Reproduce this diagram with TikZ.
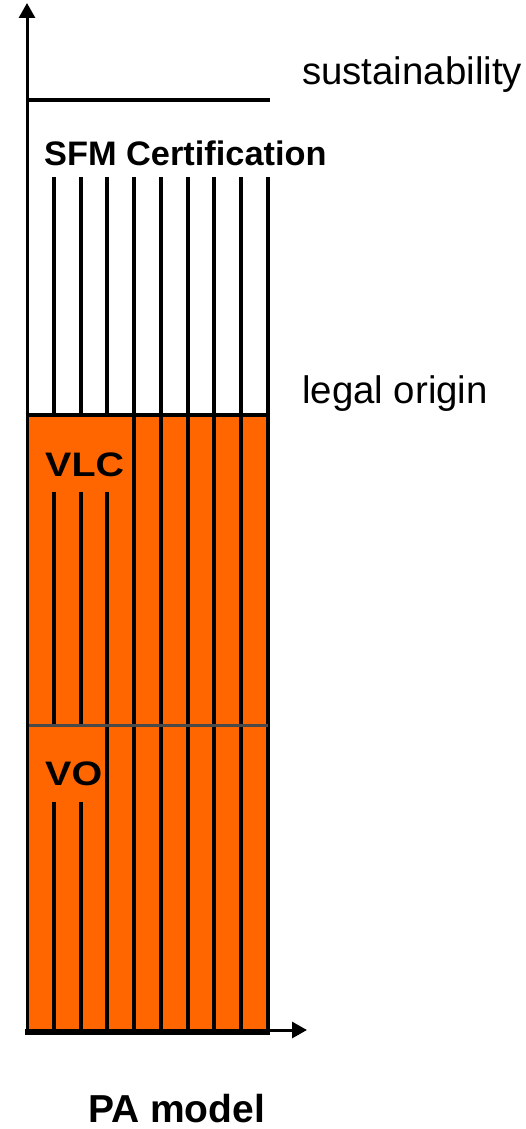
\documentclass[tikz,border=0pt]{standalone}
\usepackage{fontspec}
\setmainfont{Liberation Sans}
\usetikzlibrary{arrows.meta}
\definecolor{wood}{HTML}{FF6600}
\definecolor{seam}{HTML}{4A4A4A}
\newcommand{\widebold}[1]{\scalebox{1.16}[1]{#1}}
\begin{document}
\begin{tikzpicture}[x=1pt,y=-1pt,
  bar/.style={line width=4pt},
  axis/.style={line width=3pt,-{Triangle[width=16pt,length=15pt]}},
  lbl/.style={anchor=base west,inner sep=0pt,font=\fontsize{38.4}{42}\selectfont},
  tag/.style={anchor=base west,inner sep=0pt,font=\fontsize{34}{38}\selectfont\bfseries}]
\useasboundingbox (0,0) rectangle (526,1129);
% orange body of the column
\fill[wood] (27,415) rectangle (268,1032);
% upper (certification) segment: thin vertical strips
\foreach \k in {1,...,9}
  \draw[bar] ({27+26.75*\k},177) -- ({27+26.75*\k},415);
% strips running through the whole orange block
\foreach \k in {4,...,9}
  \draw[bar] ({27+26.75*\k},415) -- ({27+26.75*\k},1032);
\draw[bar] ({27+26.75*3},492) -- ({27+26.75*3},1032);
\foreach \k in {1,2}{
  \draw[bar] ({27+26.75*\k},492) -- ({27+26.75*\k},725);
  \draw[bar] ({27+26.75*\k},802) -- ({27+26.75*\k},1032);
}
% separator between VLC and VO
\draw[seam,line width=3pt] (29,725) -- (268,725);
% level lines
\draw[bar] (27,100) -- (270,100);
\draw[bar] (27,415) -- (268,415);
\draw[line width=5pt] (25,1032) -- (270,1032);
% axes
\draw[axis] (27,1034) -- (27,3);
\draw[axis] (25,1030) -- (307,1030);
% labels
\node[lbl] (sus) at (302,85) {sustainability};
\node[lbl] (leg) at (302,403) {legal origin};
\node[tag] (sfm) at (44,165) {\scalebox{1.01}[1]{SFM Certification}};
\node[tag] (vlc) at (45,476) {\widebold{VLC}};
\node[tag] (vo) at (45,785) {\widebold{VO}};
\node[anchor=base west,inner sep=0pt,font=\fontsize{39}{42}\selectfont\bfseries] (pa) at (88,1122) {PA model};
\end{tikzpicture}
\end{document}
